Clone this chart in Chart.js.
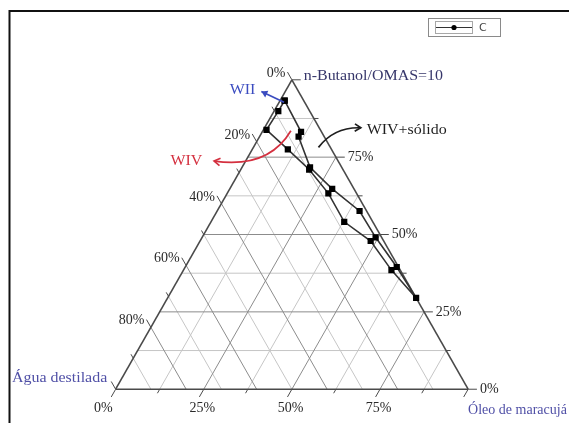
<!DOCTYPE html>
<html>
<head>
<meta charset="utf-8">
<script src="https://cdn.jsdelivr.net/npm/chart.js@4"></script>
<style>
  html, body { margin: 0; padding: 0; background: #fff; }
  #wrap { width: 569px; height: 423px; }
</style>
</head>
<body>
<div id="wrap"><canvas id="chart" width="569" height="423"></canvas></div>
<script>
// composition of series C (%), in drawing order (closed loop)
const aguaPct = [5.4, 5.8, 7.3, 9.0, 6.2, 2.0, 1.7, 0.5, 0, 2.5, 3.7, 8.1, 8.0, 9.6, 12.4, 15.3, 8.9, 5.4]
const oleoPct = [1.3, 11.0, 11.1, 19.3, 29.1, 40.4, 49.2, 60.0, 70.5, 59.0, 48.4, 37.8, 28.7, 19.4, 10.1, 0.9, 1.2, 1.3]
const butanolPct = [93.3, 83.2, 81.6, 71.7, 64.8, 57.6, 49.1, 39.5, 29.5, 38.5, 47.9, 54.1, 63.3, 71.0, 77.5, 83.8, 89.9, 93.3]
const seriesLabel = 'C'

// axis ticks (%)
const aguaTicks = [0, 20, 40, 60, 80]
const aguaMinor = [10, 30, 50, 70, 90]
const oleoTicks = [0, 25, 50, 75]
const oleoMinor = [12.5, 37.5, 62.5, 87.5]
const butanolTicks = [0, 25, 50, 75]
const butanolMinor = [12.5, 37.5, 62.5, 87.5]
const vertexAgua = 'Água destilada'
const vertexOleo = 'Óleo de maracujá'
const vertexButanol = 'n-Butanol/OMAS=10'

// ternary -> plane (oleo to the right, butanol up)
function toXY(a, o, b) {
  const s = a + o + b
  return { x: (o + b / 2) / s, y: b / s }
}

function seg(p, q, color, width) {
  return { data: [p, q], showLine: true, pointRadius: 0, borderColor: color, borderWidth: width, fill: false }
}

const MAJOR = '#8c8c8c'
const MINOR = '#c6c6c6'
const EDGE = '#4a4a4a'

function buildDatasets() {
  const out = []
  out.push({
    label: seriesLabel,
    data: aguaPct.map((a, i) => toXY(a, oleoPct[i], butanolPct[i])),
    showLine: true,
    borderColor: '#333',
    borderWidth: 1.6,
    pointStyle: 'rect',
    pointRadius: 4.4,
    pointBackgroundColor: '#000',
    pointBorderColor: '#000',
    pointBorderWidth: 0
  })
  // triangle edges
  out.push(seg(toXY(100, 0, 0), toXY(0, 100, 0), EDGE, 1.6))
  out.push(seg(toXY(0, 100, 0), toXY(0, 0, 100), EDGE, 1.6))
  out.push(seg(toXY(0, 0, 100), toXY(100, 0, 0), EDGE, 1.6))
  // ticks
  const tick = (vals, t, kind) => vals.forEach(v => {
    if (kind === 'b') out.push(seg(toXY(0, 100 - v, v), toXY(-t, 100 - v + t, v), EDGE, 1))
    if (kind === 'o') out.push(seg(toXY(100 - v, v, 0), toXY(100 - v + t, v, -t), EDGE, 1))
    if (kind === 'a') out.push(seg(toXY(v, 0, 100 - v), toXY(v, -t, 100 - v + t), EDGE, 1))
  })
  tick(butanolTicks.concat([100]), 2.5, 'b')
  tick(butanolMinor, 1.3, 'b')
  tick(oleoTicks.concat([100]), 2.5, 'o')
  tick(oleoMinor, 1.3, 'o')
  tick(aguaTicks.concat([100]), 2.5, 'a')
  tick(aguaMinor, 1.3, 'a')
  // grid
  butanolTicks.forEach(v => { if (v > 0) out.push(seg(toXY(100 - v, 0, v), toXY(0, 100 - v, v), MAJOR, 1)) })
  oleoTicks.forEach(v => { if (v > 0) out.push(seg(toXY(100 - v, v, 0), toXY(0, v, 100 - v), MAJOR, 1)) })
  aguaTicks.forEach(v => { if (v > 0) out.push(seg(toXY(v, 0, 100 - v), toXY(v, 100 - v, 0), MAJOR, 1)) })
  butanolMinor.forEach(v => out.push(seg(toXY(100 - v, 0, v), toXY(0, 100 - v, v), MINOR, 1)))
  oleoMinor.forEach(v => out.push(seg(toXY(100 - v, v, 0), toXY(0, v, 100 - v), MINOR, 1)))
  aguaMinor.forEach(v => out.push(seg(toXY(v, 0, 100 - v), toXY(v, 100 - v, 0), MINOR, 1)))
  return out
}

// annotation arrows, in plane coordinates
const notes = [
  { text: 'WII', color: '#3b4cc0', from: [0.4777, 0.9272], ctrl: null, to: [0.4134, 0.962], at: [0.3966, 0.965], align: 'right', filled: true },
  { text: 'WIV', color: '#d4303f', from: [0.4972, 0.8354], ctrl: [0.4330, 0.712], to: [0.2793, 0.7373], at: [0.2458, 0.7373], align: 'right' },
  { text: 'WIV+sólido', color: '#1e1e1e', from: [0.5754, 0.7816], ctrl: [0.6201, 0.8481], to: [0.6955, 0.8449], at: [0.7123, 0.8354], align: 'left' }
]

const STRETCH = 1.14

function wideText(ctx, text, x, y, align, k = STRETCH) {
  const w = ctx.measureText(text).width * k
  let left = x
  if (align === 'right') left = x - w
  if (align === 'center') left = x - w / 2
  ctx.save()
  ctx.translate(left, y)
  ctx.scale(k, 1)
  ctx.textAlign = 'left'
  ctx.fillText(text, 0, 0)
  ctx.restore()
}

const ternaryDecor = {
  id: 'ternaryDecor',
  afterDraw(chart) {
    const { ctx, scales } = chart
    const P = (x, y) => ({ x: scales.x.getPixelForValue(x), y: scales.y.getPixelForValue(y) })
    const T = (a, o, b) => { const q = toXY(a, o, b); return P(q.x, q.y) }
    ctx.save()
    // frame
    ctx.strokeStyle = '#111'
    ctx.lineWidth = 2
    ctx.beginPath()
    ctx.moveTo(9.5, 430)
    ctx.lineTo(9.5, 11)
    ctx.lineTo(575, 11)
    ctx.stroke()

    ctx.font = '14px "Liberation Serif", "DejaVu Serif", serif'
    ctx.textBaseline = 'middle'
    ctx.fillStyle = '#2a2a2a'
    // butanol (right side)
    ctx.textAlign = 'left'
    butanolTicks.forEach(v => {
      const p = T(-2.5, 100 - v + 2.5, v)
      ctx.fillText(v + '%', p.x + 3, p.y)
    })
    // oleo (bottom)
    ctx.textAlign = 'center'
    oleoTicks.forEach(v => {
      const p = T(100 - v + 2.5, v, -2.5)
      ctx.fillText(v + '%', p.x + (v === 0 ? -8 : 3), p.y + 11)
    })
    // agua (left side)
    ctx.textAlign = 'right'
    aguaTicks.forEach(v => {
      const p = T(v, -2.5, 100 - v + 2.5)
      ctx.fillText(v + '%', p.x - 2, p.y + 1)
    })
    // vertex titles
    ctx.fillStyle = '#4f4fa6'
    let p = T(100, -2.5, 2.5)
    wideText(ctx, vertexAgua, p.x - 4, p.y - 3, 'right')
    p = T(0, 100, 0)
    wideText(ctx, vertexOleo, p.x, p.y + 21, 'left', 1)
    ctx.fillStyle = '#36366a'
    p = T(-2.5, 2.5, 100)
    wideText(ctx, vertexButanol, p.x + 3, p.y - 3, 'left')

    // arrows
    notes.forEach(n => {
      const a = P(n.from[0], n.from[1])
      const b = P(n.to[0], n.to[1])
      const c = n.ctrl ? P(n.ctrl[0], n.ctrl[1]) : { x: (a.x + b.x) / 2, y: (a.y + b.y) / 2 }
      ctx.strokeStyle = n.color
      ctx.fillStyle = n.color
      ctx.lineWidth = 1.7
      ctx.beginPath()
      ctx.moveTo(a.x, a.y)
      ctx.quadraticCurveTo(c.x, c.y, b.x, b.y)
      ctx.stroke()
      const ang = Math.atan2(b.y - c.y, b.x - c.x)
      const L = 7
      ctx.beginPath()
      ctx.moveTo(b.x - L * Math.cos(ang - 0.55), b.y - L * Math.sin(ang - 0.55))
      ctx.lineTo(b.x, b.y)
      ctx.lineTo(b.x - L * Math.cos(ang + 0.55), b.y - L * Math.sin(ang + 0.55))
      if (n.filled) { ctx.closePath(); ctx.fill() } else ctx.stroke()
      const t = P(n.at[0], n.at[1])
      wideText(ctx, n.text, t.x, t.y, n.align)
    })

    // legend box
    ctx.strokeStyle = '#8a8a8a'
    ctx.lineWidth = 1
    ctx.strokeRect(428.5, 18.5, 72, 18)
    ctx.strokeStyle = '#a8a8a8'
    ctx.strokeRect(435.5, 21.5, 37, 12)
    ctx.strokeStyle = '#333'
    ctx.beginPath()
    ctx.moveTo(436, 27.5)
    ctx.lineTo(472, 27.5)
    ctx.stroke()
    ctx.fillStyle = '#000'
    ctx.beginPath()
    ctx.arc(454, 27.5, 2.6, 0, Math.PI * 2)
    ctx.fill()
    ctx.fillStyle = '#444'
    ctx.font = '11px "DejaVu Sans", sans-serif'
    ctx.textAlign = 'left'
    ctx.fillText(chart.data.datasets[0].label, 479, 28)
    ctx.restore()
  }
}

// plane -> pixels: triangle corners at (113,393), (471,393), (292,77)
const W = 358, H = 316
new Chart(document.getElementById('chart'), {
  type: 'scatter',
  data: { datasets: buildDatasets() },
  options: {
    responsive: false,
    animation: false,
    layout: { padding: 0 },
    plugins: { legend: { display: false }, tooltip: { enabled: false } },
    scales: {
      x: { type: 'linear', display: false, min: -113 / W, max: (569 - 113) / W },
      y: { type: 'linear', display: false, min: -(423 - 393) / H, max: 1 + 77 / H }
    }
  },
  plugins: [ternaryDecor]
})
</script>
</body>
</html>
